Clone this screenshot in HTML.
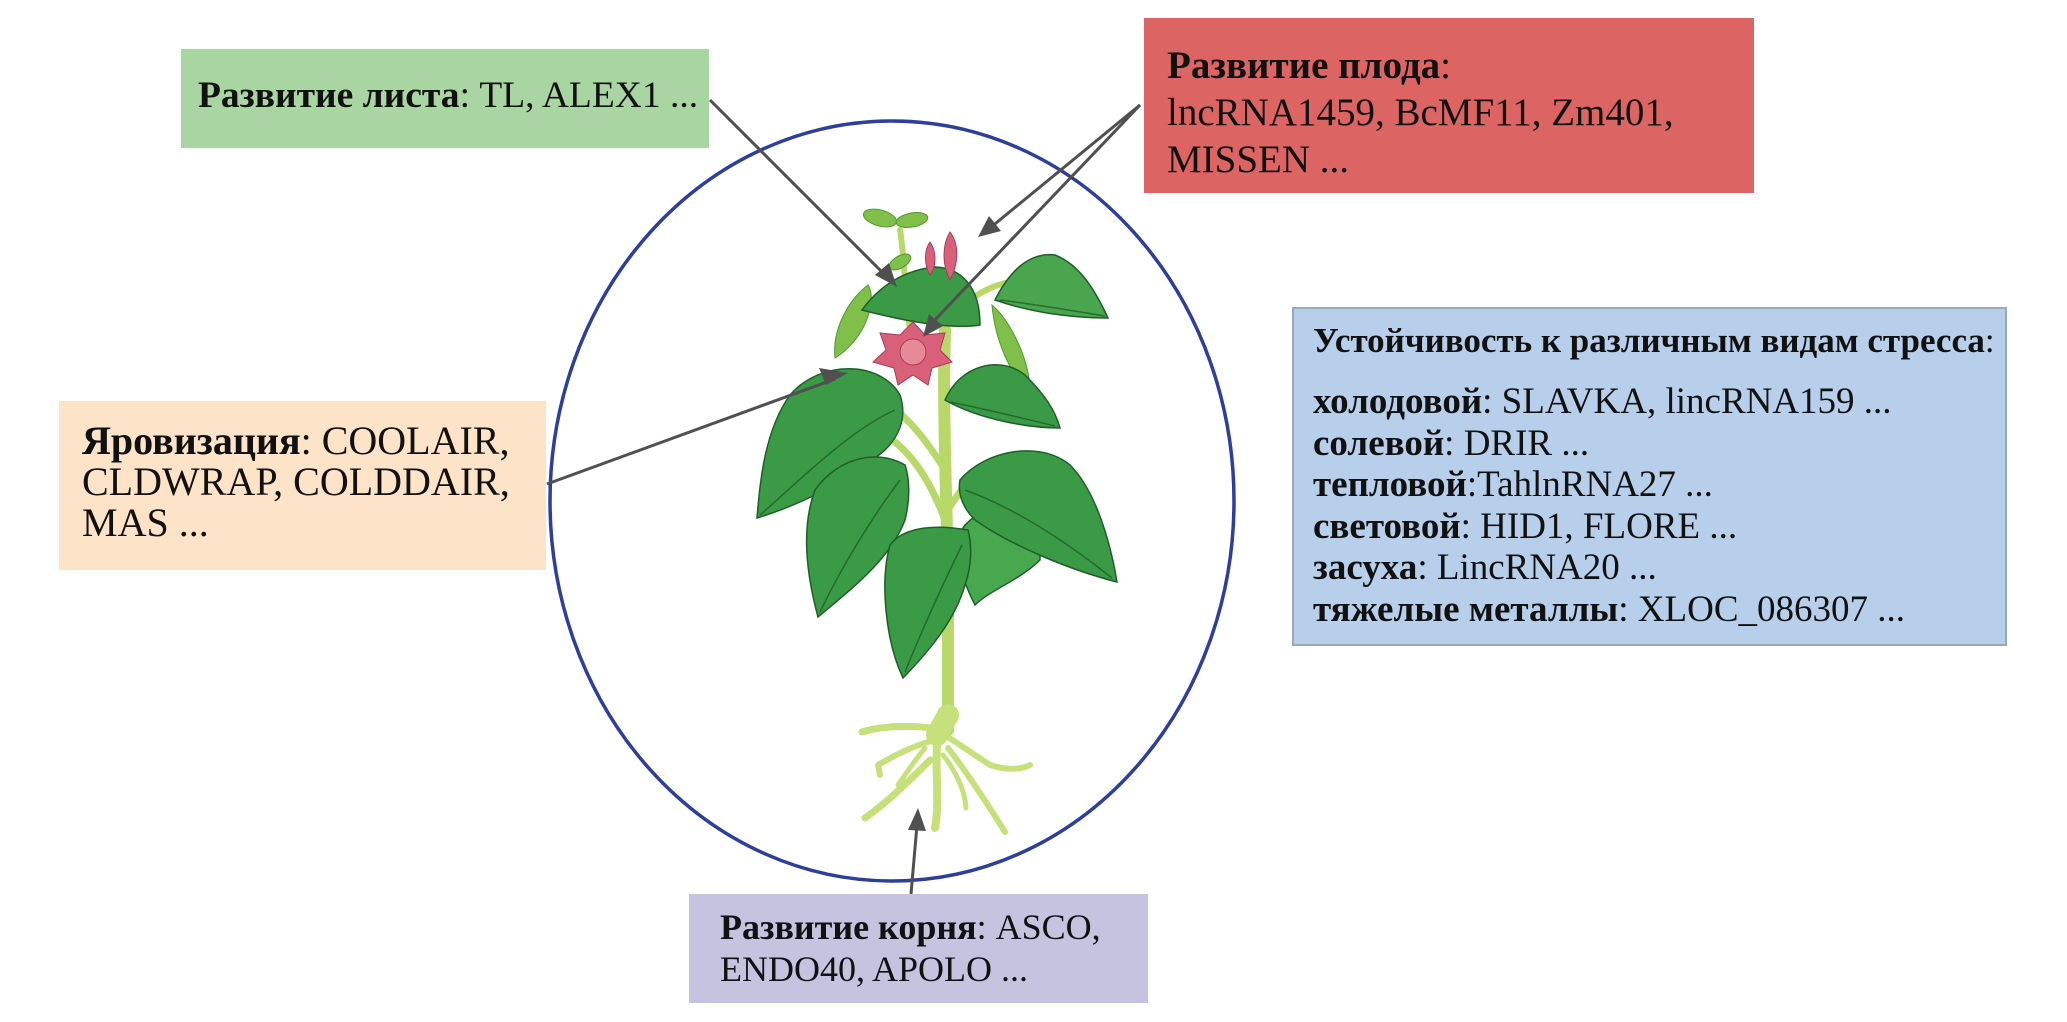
<!DOCTYPE html>
<html><head><meta charset="utf-8"><style>
html,body{margin:0;padding:0;background:#fff;}
body{width:2067px;height:1022px;position:relative;overflow:hidden;font-family:"Liberation Serif","DejaVu Serif",serif;color:#111;}
.box{position:absolute;box-sizing:border-box;}
.t{position:absolute;white-space:nowrap;font-size:34px;line-height:40px;transform-origin:0 0;}
b{font-weight:bold;}
</style></head><body>
<svg width="2067" height="1022" style="position:absolute;left:0;top:0">
<ellipse cx="892" cy="501" rx="342" ry="380" fill="none" stroke="#2e3f9a" stroke-width="3.5"/>
<g fill="none" stroke="#b8d86a" stroke-linecap="round">
<path d="M945 330 C942 420 948 520 948 600 L948 730" stroke-width="12"/>
<path d="M945 470 C920 430 900 410 880 400" stroke-width="7"/>
<path d="M945 520 C930 480 910 450 885 435" stroke-width="7"/>
<path d="M948 510 C960 490 975 470 995 465" stroke-width="7"/>
<path d="M912 345 C905 300 905 260 900 230" stroke-width="6"/>
<path d="M970 300 C990 285 1010 280 1030 280" stroke-width="6"/>
</g>
<g fill="none" stroke="#c6e07a" stroke-linecap="round" stroke-linejoin="round">
<path d="M948 715 L937 735" stroke-width="22"/>
<path d="M930 728 C910 725 880 726 862 732" stroke-width="7"/>
<path d="M935 740 C915 745 895 755 878 765 L880 775" stroke-width="6"/>
<path d="M930 760 C910 780 890 800 865 818" stroke-width="7"/>
<path d="M937 745 C935 775 940 800 935 828" stroke-width="8"/>
<path d="M945 735 C960 745 975 755 990 765 C1005 770 1020 770 1030 765" stroke-width="6"/>
<path d="M948 748 C965 770 985 800 1005 832" stroke-width="6"/>
<path d="M943 755 C955 770 965 790 966 808" stroke-width="5"/>
<path d="M925 748 C915 760 905 775 898 785" stroke-width="5"/>
</g>
<g fill="#7fbf4a" stroke="#4f9a2c" stroke-width="1">
<path d="M868 285 C878 300 865 340 835 358 C832 330 848 300 868 285Z"/>
<path d="M992 305 C1010 320 1030 360 1030 392 C1010 375 995 340 992 305Z"/>
<ellipse cx="880" cy="218" rx="17" ry="8" transform="rotate(15 880 218)"/>
<ellipse cx="912" cy="220" rx="16" ry="7" transform="rotate(-10 912 220)"/>
<ellipse cx="900" cy="262" rx="12" ry="6" transform="rotate(-30 900 262)"/>
</g>
<g fill="#3a9a45" stroke="#1f5e28" stroke-width="1.5">
<path d="M1040 505 C1010 495 985 505 965 525 C950 545 960 575 975 605 C990 590 1020 580 1040 560Z" fill="#48a850"/>
<path d="M862 310 C880 285 905 270 935 267 C960 268 980 285 980 325 C950 330 900 320 862 310Z"/>
<path d="M995 300 C1010 270 1030 252 1055 255 C1080 265 1095 290 1108 318 C1070 318 1030 312 995 300Z" fill="#4aa64e"/>
<path d="M900 395 C880 360 820 360 790 395 C765 430 760 480 757 518 C800 505 850 480 885 450 C905 430 905 410 900 395Z"/>
<path d="M945 400 C960 365 1000 355 1025 375 C1045 395 1055 410 1060 428 C1030 428 980 420 945 400Z"/>
<path d="M905 465 C880 450 840 455 815 490 C800 530 808 580 818 617 C850 590 890 560 905 520 C910 500 910 480 905 465Z"/>
<path d="M960 480 C985 450 1040 440 1070 465 C1095 490 1110 540 1117 582 C1070 570 1010 545 975 520 C960 505 958 490 960 480Z"/>
<path d="M968 530 C940 525 905 525 890 545 C880 580 885 640 903 678 C930 650 955 620 965 585 C972 565 972 545 968 530Z"/>
</g>
<g fill="none" stroke="#1f5e28" stroke-width="1.5" opacity="0.8">
<path d="M895 410 C850 430 800 480 760 515"/>
<path d="M900 480 C870 520 840 570 820 612"/>
<path d="M965 490 C1020 510 1070 545 1112 578"/>
<path d="M962 545 C940 590 920 635 905 672"/>
<path d="M950 402 C990 410 1030 420 1055 426"/>
<path d="M1000 300 C1040 305 1080 312 1105 316"/>
</g>
<g fill="#d9607a" stroke="#a83a55" stroke-width="1">
<polygon points="913,322 925,335 945,333 940,350 952,362 932,368 928,385 913,375 898,385 894,368 873,362 886,350 880,333 900,335"/>
<circle cx="913" cy="352" r="13" fill="#e68a98"/>
<path d="M950 232 C960 245 958 265 950 280 C942 265 942 245 950 232Z"/>
<path d="M930 242 C937 252 936 268 930 275 C924 265 924 250 930 242Z"/>
</g>
<g stroke="#505050" stroke-width="3" fill="none">
<line x1="710" y1="100" x2="885" y2="275"/>
<line x1="1140" y1="105" x2="990" y2="228"/>
<line x1="1140" y1="105" x2="930" y2="325"/>
<line x1="547" y1="484" x2="835" y2="379"/>
<line x1="911" y1="894" x2="917" y2="825"/>
</g>
<g fill="#505050">
<polygon points="897,287 875,275 889,263"/>
<polygon points="978,237 989,216 1001,231"/>
<polygon points="923,337 929,314 943,326"/>
<polygon points="848,373 826,385 819,368"/>
<polygon points="918,808 908,830 926,831"/>
</g>
</svg>

<div class="box" style="left:181px;top:49px;width:528px;height:99px;background:#a9d5a3"></div>
<div class="t" style="left:198px;top:76px;font-size:37.5px;"><b>Развитие листа</b>: TL, ALEX1 ...</div>

<div class="box" style="left:1144px;top:18px;width:610px;height:175px;background:#dc6563"></div>
<div class="t" style="left:1167px;top:42px;line-height:47px;font-size:39px;"><b>Развитие плода</b>:<br>lncRNA1459, BcMF11, Zm401,<br>MISSEN ...</div>

<div class="box" style="left:59px;top:401px;width:487px;height:169px;background:#fde3c8"></div>
<div class="t" style="left:82px;top:420px;line-height:41px;font-size:40px;"><b>Яровизация</b>: COOLAIR,<br>CLDWRAP, COLDDAIR,<br>MAS ...</div>

<div class="box" style="left:1292px;top:307px;width:715px;height:339px;background:#b7cfea;border:2px solid #9aa8b8"></div>
<div class="t" style="left:1313px;top:321px;font-size:35px;"><b>Устойчивость к различным видам стресса</b>:</div>
<div class="t" style="left:1313px;top:381px;font-size:37px;line-height:41.6px;"><b>холодовой</b>: SLAVKA, lincRNA159 ...<br><b>солевой</b>: DRIR ...<br><b>тепловой</b>:TahlnRNA27 ...<br><b>световой</b>: HID1, FLORE ...<br><b>засуха</b>: LincRNA20 ...<br><b>тяжелые металлы</b>: XLOC_086307 ...</div>

<div class="box" style="left:689px;top:894px;width:459px;height:109px;background:#c5c3e0"></div>
<div class="t" style="left:720px;top:906px;font-size:36px;line-height:42px;"><b>Развитие корня</b>: ASCO,<br>ENDO40, APOLO ...</div>
</body></html>
